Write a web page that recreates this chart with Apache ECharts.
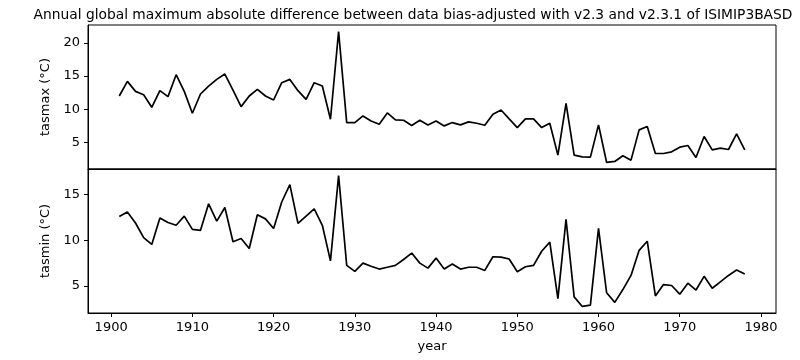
<!DOCTYPE html>
<html>
<head>
<meta charset="utf-8">
<script src="https://cdn.jsdelivr.net/npm/echarts@6/dist/echarts.min.js"></script>
<style>html,body{margin:0;padding:0;background:#fff}#c{width:800px;height:360px}</style>
</head>
<body>
<div id="c"></div>
<script>
const titleText = 'Annual global maximum absolute difference between data bias-adjusted with v2.3 and v2.3.1 of ISIMIP3BASD';
const years = [];
for (let y = 1901; y <= 1978; y++) years.push(y);
const tasmax = [
  12.0, 14.2, 12.7, 12.2, 10.3, 12.8, 11.9, 15.2, 12.7, 9.4,
  12.3, 13.5, 14.5, 15.3, 12.9, 10.4, 12.0, 13.0, 12.0, 11.4,
  14.0, 14.5, 12.8, 11.5, 14.0, 13.5, 8.5, 21.7, 8.0, 8.0,
  9.0, 8.25, 7.75, 9.45, 8.4, 8.35, 7.55, 8.35, 7.65, 8.25,
  7.5, 8.0, 7.65, 8.1, 7.9, 7.6, 9.25, 9.9, 8.55, 7.25,
  8.55, 8.55, 7.25, 7.9, 3.1, 10.9, 3.1, 2.85, 2.8, 7.65,
  2.0, 2.15, 3.0, 2.35, 6.9, 7.4, 3.35, 3.35, 3.6, 4.3,
  4.55, 2.75, 5.9, 3.9, 4.15, 3.95, 6.3, 3.9
];
const tasmin = [
  12.6, 13.1, 11.9, 10.3, 9.55, 12.45, 11.95, 11.65, 12.65, 11.2,
  11.1, 14.0, 12.1, 13.6, 9.85, 10.2, 9.1, 12.8, 12.35, 11.3,
  14.2, 16.1, 11.85, 12.65, 13.45, 11.65, 7.75, 17.1, 7.25, 6.6,
  7.5, 7.15, 6.85, 7.05, 7.25, 7.9, 8.6, 7.5, 6.95, 8.05,
  6.85, 7.4, 6.85, 7.05, 7.05, 6.7, 8.2, 8.15, 7.95, 6.55,
  7.1, 7.25, 8.8, 9.8, 3.6, 12.3, 3.8, 2.75, 2.9, 11.3,
  4.25, 3.2, 4.6, 6.15, 8.9, 9.9, 3.9, 5.15, 5.05, 4.1,
  5.3, 4.55, 6.05, 4.75, 5.45, 6.15, 6.75, 6.3
];
const xTicks = [1900, 1910, 1920, 1930, 1940, 1950, 1960, 1970, 1980];
const yTicksMax = [5, 10, 15, 20];
const yTicksMin = [5, 10, 15];

const font = 'DejaVu Sans';
const pad = (arr) => { const mn = Math.min(...arr), mx = Math.max(...arr), r = (mx - mn) * 0.05; return [mn - r, mx + r]; };
const xr = pad(years), r1 = pad(tasmax), r2 = pad(tasmin);
const pairs = (v) => years.map((y, i) => [y, v[i]]);
const plain = (v) => String(Math.round(v));

const chart = echarts.init(document.getElementById('c'), null, {renderer: 'canvas'});
const axisBase = {
  axisLine: {show: true, onZero: false, lineStyle: {color: '#000', width: 1}},
  axisTick: {show: true, length: 4, lineStyle: {color: '#000', width: 1}},
  axisLabel: {color: '#000', fontFamily: font, fontSize: 13, formatter: plain},
  splitLine: {show: false},
  nameTextStyle: {color: '#000', fontFamily: font, fontSize: 13}
};
chart.setOption({
  animation: false,
  backgroundColor: '#fff',
  title: {
    text: titleText, left: 408, top: 3, textAlign: 'center',
    textStyle: {fontFamily: font, fontSize: 13.8, fontWeight: 'normal', color: '#000'}
  },
  grid: [
    {left: 88, right: 24, top: 25, height: 144, show: true, borderColor: '#000', borderWidth: 1, backgroundColor: 'transparent'},
    {left: 88, right: 24, top: 169, height: 144, show: true, borderColor: '#000', borderWidth: 1, backgroundColor: 'transparent'}
  ],
  xAxis: [
    Object.assign({}, axisBase, {type: 'value', gridIndex: 0, min: xr[0], max: xr[1],
      axisTick: {show: false}, axisLabel: {show: false}}),
    Object.assign({}, axisBase, {type: 'value', gridIndex: 1, min: xr[0], max: xr[1],
      name: 'year', nameLocation: 'middle', nameGap: 27,
      axisTick: Object.assign({}, axisBase.axisTick, {customValues: xTicks}),
      axisLabel: Object.assign({}, axisBase.axisLabel, {customValues: xTicks, margin: 8})})
  ],
  yAxis: [
    Object.assign({}, axisBase, {type: 'value', gridIndex: 0, min: r1[0], max: r1[1],
      name: 'tasmax (°C)', nameLocation: 'middle', nameGap: 32,
      axisTick: Object.assign({}, axisBase.axisTick, {customValues: yTicksMax}),
      axisLabel: Object.assign({}, axisBase.axisLabel, {customValues: yTicksMax, margin: 8})}),
    Object.assign({}, axisBase, {type: 'value', gridIndex: 1, min: r2[0], max: r2[1],
      name: 'tasmin (°C)', nameLocation: 'middle', nameGap: 32,
      axisTick: Object.assign({}, axisBase.axisTick, {customValues: yTicksMin}),
      axisLabel: Object.assign({}, axisBase.axisLabel, {customValues: yTicksMin, margin: 8})})
  ],
  series: [
    {type: 'line', xAxisIndex: 0, yAxisIndex: 0, data: pairs(tasmax), showSymbol: false,
      lineStyle: {color: '#000', width: 1.7}, itemStyle: {color: '#000'}},
    {type: 'line', xAxisIndex: 1, yAxisIndex: 1, data: pairs(tasmin), showSymbol: false,
      lineStyle: {color: '#000', width: 1.7}, itemStyle: {color: '#000'}}
  ]
});
</script>
</body>
</html>
